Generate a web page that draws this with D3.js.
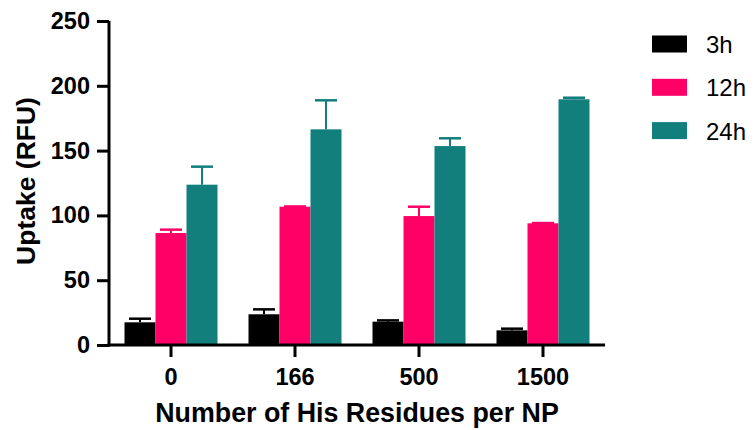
<!DOCTYPE html>
<html>
<head>
<meta charset="utf-8">
<script src="https://cdn.jsdelivr.net/npm/d3@7"></script>
<style>
  html, body { margin: 0; padding: 0; background: #fff; }
  svg { display: block; font-family: "Liberation Sans", Arial, sans-serif; }
</style>
</head>
<body>
<svg id="chart" width="754" height="430"></svg>
<script>
// Histidine residues per nanoparticle (x categories)
const categories = ["0", "166", "500", "1500"];
// Incubation time series
const seriesNames = ["3h", "12h", "24h"];
const seriesColors = ["#000000", "#FF0066", "#127F7D"];
// Mean uptake (RFU) per series, in category order
const uptake3h  = [17.5, 23.7, 18.0, 11.3];
const uptake12h = [86.4, 106.7, 99.5, 93.9];
const uptake24h = [123.7, 166.4, 153.5, 189.6];
// Upper error (SD) per series
const err3h  = [2.8, 3.8, 1.0, 1.3];
const err12h = [2.6, 0.2, 7.2, 0.2];
const err24h = [13.9, 22.4, 6.0, 1.2];
const yTicks = [0, 50, 100, 150, 200, 250];

const values = [uptake3h, uptake12h, uptake24h];
const errors = [err3h, err12h, err24h];

const svg = d3.select("#chart");
const plotLeft = 109, plotRight = 605, plotTop = 21, plotBottom = 345;

const x0 = d3.scaleBand().domain(categories).range([plotLeft, plotRight])
  .paddingInner(0.25).paddingOuter(0.125);
const x1 = d3.scaleBand().domain(seriesNames).range([0, x0.bandwidth()]);
const y = d3.scaleLinear().domain([0, 250]).range([plotBottom, plotTop]);

const rows = [];
categories.forEach((c, ci) => {
  seriesNames.forEach((s, si) => {
    rows.push({ cat: c, series: s, color: seriesColors[si],
                value: values[si][ci], err: errors[si][ci] });
  });
});

// Bars
const g = svg.append("g");
g.selectAll("rect.bar").data(rows).join("rect")
  .attr("class", "bar")
  .attr("x", d => x0(d.cat) + x1(d.series))
  .attr("width", x1.bandwidth())
  .attr("y", d => y(d.value))
  .attr("height", d => y(0) - y(d.value))
  .attr("fill", d => d.color);

// Upper error bars
const capW = 22;
const cx = d => x0(d.cat) + x1(d.series) + x1.bandwidth() / 2;
const eb = g.selectAll("g.err").data(rows).join("g").attr("class", "err");
eb.append("line")
  .attr("x1", cx).attr("x2", cx)
  .attr("y1", d => y(d.value))
  .attr("y2", d => y(d.value + d.err))
  .attr("stroke", d => d.color).attr("stroke-width", 2);
eb.append("line")
  .attr("x1", d => cx(d) - capW / 2)
  .attr("x2", d => cx(d) + capW / 2)
  .attr("y1", d => y(d.value + d.err))
  .attr("y2", d => y(d.value + d.err))
  .attr("stroke", d => d.color).attr("stroke-width", 2.5);

// Axes
const yAxis = svg.append("g").attr("transform", `translate(${plotLeft},0)`)
  .call(d3.axisLeft(y).tickValues(yTicks).tickSize(12).tickPadding(7).tickSizeOuter(0));
const xAxis = svg.append("g").attr("transform", `translate(0,${plotBottom})`)
  .call(d3.axisBottom(x0).tickSize(12).tickPadding(11).tickSizeOuter(0));

[yAxis, xAxis].forEach(a => {
  a.select(".domain").attr("stroke", "#000").attr("stroke-width", 3);
  a.selectAll(".tick line").attr("stroke", "#000").attr("stroke-width", 3);
  a.selectAll(".tick text")
    .attr("fill", "#000")
    .style("font-family", "'Liberation Sans', Arial, sans-serif")
    .style("font-weight", "bold")
    .style("font-size", "23.5px");
});
// extend axis lines so the corner joins cleanly
yAxis.select(".domain").attr("d", `M0,${plotTop}V${plotBottom + 1.5}`);
xAxis.select(".domain").attr("d", `M${plotLeft - 1.5},0H${plotRight}`);

// Axis titles
svg.append("text")
  .attr("x", (plotLeft + plotRight) / 2).attr("y", 422)
  .attr("text-anchor", "middle")
  .style("font-weight", "bold").style("font-size", "26.8px")
  .text("Number of His Residues per NP");
svg.append("text")
  .attr("transform", `translate(35,181) rotate(-90)`)
  .attr("text-anchor", "middle")
  .style("font-weight", "bold").style("font-size", "26.5px")
  .text("Uptake (RFU)");

// Legend
const legend = svg.append("g");
const lg = legend.selectAll("g").data(seriesNames).join("g")
  .attr("transform", (d, i) => `translate(652,${44 + i * 43.3})`);
lg.append("rect").attr("x", 0).attr("y", -8.5).attr("width", 35).attr("height", 17)
  .attr("fill", (d, i) => seriesColors[i]);
lg.append("text").attr("x", 54).attr("y", 9)
  .style("font-size", "24px").attr("fill", "#000")
  .text(d => d);
</script>
</body>
</html>
